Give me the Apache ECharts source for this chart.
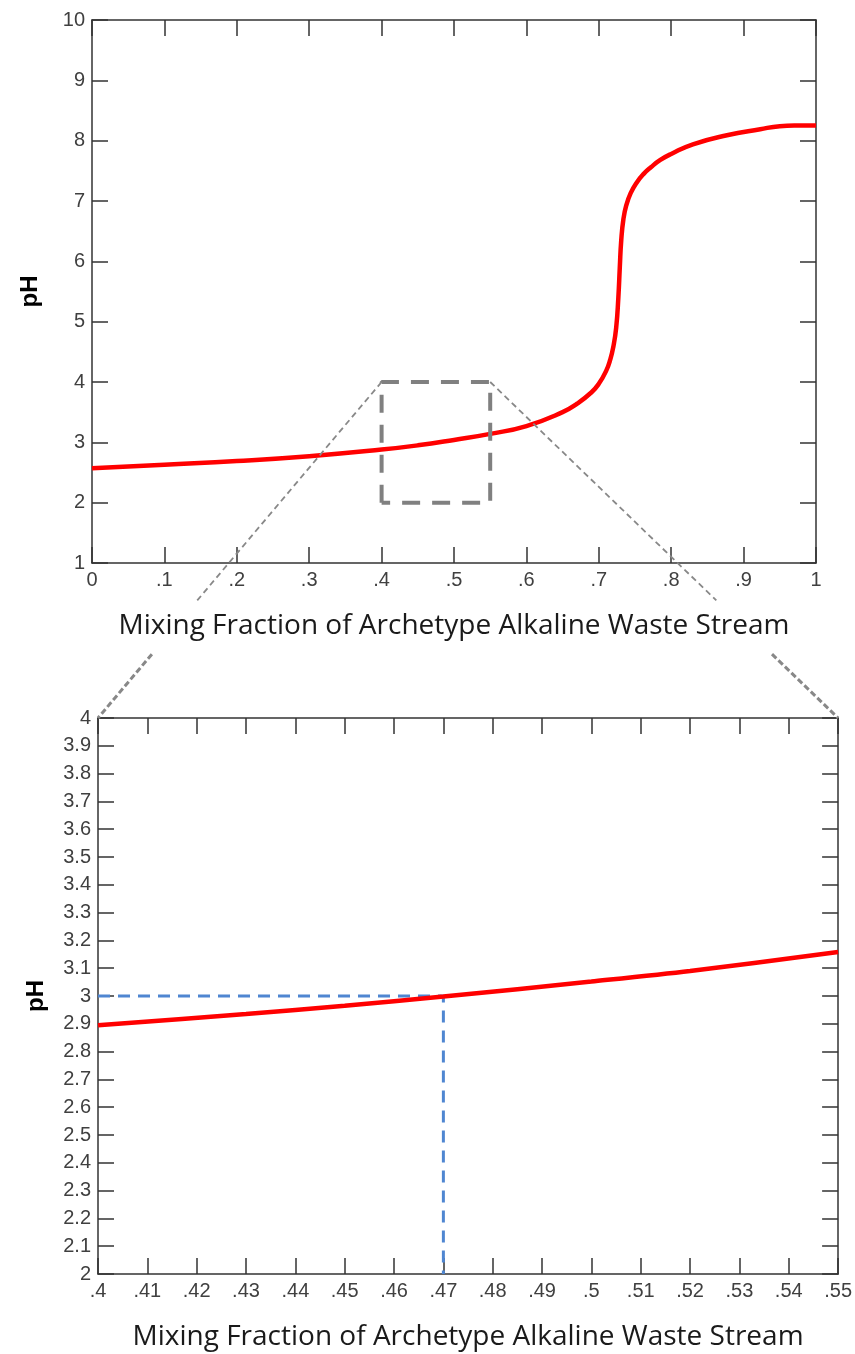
<!DOCTYPE html>
<html>
<head>
<meta charset="utf-8">
<script src="https://cdn.jsdelivr.net/npm/echarts@6/dist/echarts.min.js"></script>
<style>
  html, body { margin: 0; padding: 0; background: #fff; }
  #chart { width: 855px; height: 1354px; }
</style>
</head>
<body>
<div id="chart"></div>
<script>
'use strict';

// full titration curve (top panel)
const fullX = [0, 0.1, 0.2, 0.3, 0.4, 0.45, 0.5, 0.55, 0.6, 0.65, 0.67, 0.69, 0.70, 0.71, 0.716, 0.72, 0.724, 0.727, 0.729, 0.731, 0.734, 0.738, 0.744, 0.752, 0.762, 0.772, 0.785, 0.8, 0.83, 0.877, 0.923, 0.95, 0.97, 1.0];
const fullPH = [2.57, 2.63, 2.69, 2.77, 2.88, 2.95, 3.04, 3.14, 3.27, 3.50, 3.64, 3.83, 3.97, 4.18, 4.38, 4.58, 4.90, 5.40, 5.90, 6.35, 6.70, 6.93, 7.13, 7.30, 7.45, 7.56, 7.68, 7.78, 7.94, 8.09, 8.19, 8.24, 8.25, 8.25];

// zoomed section (bottom panel)
const zoomX = [0.40, 0.43, 0.45, 0.47, 0.50, 0.52, 0.55];
const zoomPH = [2.895, 2.935, 2.965, 2.998, 3.052, 3.09, 3.158];

// target pH reading
const targetX = 0.47;
const targetPH = 3.0;

// zoom window drawn on the top panel
const boxX = [0.4, 0.55];
const boxPH = [2, 4];

const xTitle = 'Mixing Fraction of Archetype Alkaline Waste Stream';
const yTitle = 'pH';

const tickFont = { fontFamily: 'Liberation Sans', fontSize: 20, color: '#404040' };
const axisLine = { show: true, onZero: false, lineStyle: { color: '#333', width: 1.5 } };
const tick = { show: true, inside: true, length: 16, lineStyle: { color: '#333', width: 1.5 } };

function frac(v, d) {
    let s = String(+v.toFixed(d));
    return s.replace(/^0\./, '.');
}

let chart = echarts.init(document.getElementById('chart'));

function xAx(grid, min, max, interval, pos, labels, nameText) {
    return {
        type: 'value', gridIndex: grid, position: pos, min: min, max: max, interval: interval,
        axisLine: axisLine, axisTick: tick, splitLine: { show: false },
        axisLabel: labels ? Object.assign({ margin: 7, formatter: v => frac(v, 2) }, tickFont) : { show: false },
        name: nameText || '', nameLocation: 'middle', nameGap: 49,
        nameTextStyle: { fontFamily: 'Open Sans', fontSize: 28, color: '#1a1a1a' }
    };
}

function yAx(grid, min, max, interval, pos, labels, dec) {
    return {
        type: 'value', gridIndex: grid, position: pos, min: min, max: max, interval: interval,
        axisLine: axisLine, axisTick: tick, splitLine: { show: false },
        axisLabel: labels ? Object.assign({ margin: 7, formatter: v => String(+v.toFixed(dec)) }, tickFont) : { show: false },
        name: labels ? yTitle : '', nameLocation: 'middle', nameRotate: 90, nameGap: 50,
        nameTextStyle: { fontFamily: 'Liberation Sans', fontWeight: 'bold', fontSize: 24, color: '#000' }
    };
}

let option = {
    animation: false,
    backgroundColor: '#fff',
    grid: [
        { left: 92, top: 20, width: 724, height: 543 },
        { left: 98, top: 718, width: 741, height: 556 }
    ],
    xAxis: [
        xAx(0, 0, 1, 0.1, 'bottom', true, xTitle),
        xAx(0, 0, 1, 0.1, 'top', false),
        xAx(1, 0.4, 0.55, 0.01, 'bottom', true, xTitle),
        xAx(1, 0.4, 0.55, 0.01, 'top', false)
    ],
    yAxis: [
        yAx(0, 1, 10, 1, 'left', true, 0),
        yAx(0, 1, 10, 1, 'right', false, 0),
        yAx(1, 2, 4, 0.1, 'left', true, 1),
        yAx(1, 2, 4, 0.1, 'right', false, 1)
    ],
    series: [
        {
            type: 'line', xAxisIndex: 0, yAxisIndex: 0, showSymbol: false, z: 3,
            smooth: 0.5,
            lineStyle: { color: '#ff0000', width: 4.5 },
            data: fullX.map((x, i) => [x, fullPH[i]])
        },
        {
            type: 'line', xAxisIndex: 0, yAxisIndex: 0, showSymbol: false, z: 4,
            lineStyle: { color: '#808080', width: 4, type: [18, 12] },
            data: [[boxX[0], boxPH[0]], [boxX[0], boxPH[1]], [boxX[1], boxPH[1]], [boxX[1], boxPH[0]], [boxX[0], boxPH[0]]]
        },
        {
            type: 'line', xAxisIndex: 2, yAxisIndex: 2, showSymbol: false, z: 3,
            lineStyle: { color: '#4f86d1', width: 3, type: [12, 8] },
            data: [[zoomX[0], targetPH], [targetX, targetPH], [targetX, 2]]
        },
        {
            type: 'line', xAxisIndex: 2, yAxisIndex: 2, showSymbol: false, z: 4,
            smooth: 0.3,
            lineStyle: { color: '#ff0000', width: 4.5 },
            data: zoomX.map((x, i) => [x, zoomPH[i]])
        }
    ]
};
chart.setOption(option);

// connector lines from the zoom window to the bottom panel corners
let graphics = [];
boxX.forEach(function (bx) {
    let a = chart.convertToPixel({ gridIndex: 0 }, [bx, boxPH[1]]);
    let b = chart.convertToPixel({ gridIndex: 1 }, [bx, boxPH[1]]);
    let at = t => [a[0] + (b[0] - a[0]) * t, a[1] + (b[1] - a[1]) * t];
    let p1 = at(0.65), p2 = at(0.81);
    graphics.push({
        type: 'line', z: 5,
        shape: { x1: a[0], y1: a[1], x2: p1[0], y2: p1[1] },
        style: { stroke: '#888', lineWidth: 1.8, lineDash: [6, 4] }
    });
    graphics.push({
        type: 'line', z: 5,
        shape: { x1: p2[0], y1: p2[1], x2: b[0], y2: b[1] },
        style: { stroke: '#888', lineWidth: 3, lineDash: [6, 3] }
    });
});
chart.setOption({ graphic: graphics });
</script>
</body>
</html>
